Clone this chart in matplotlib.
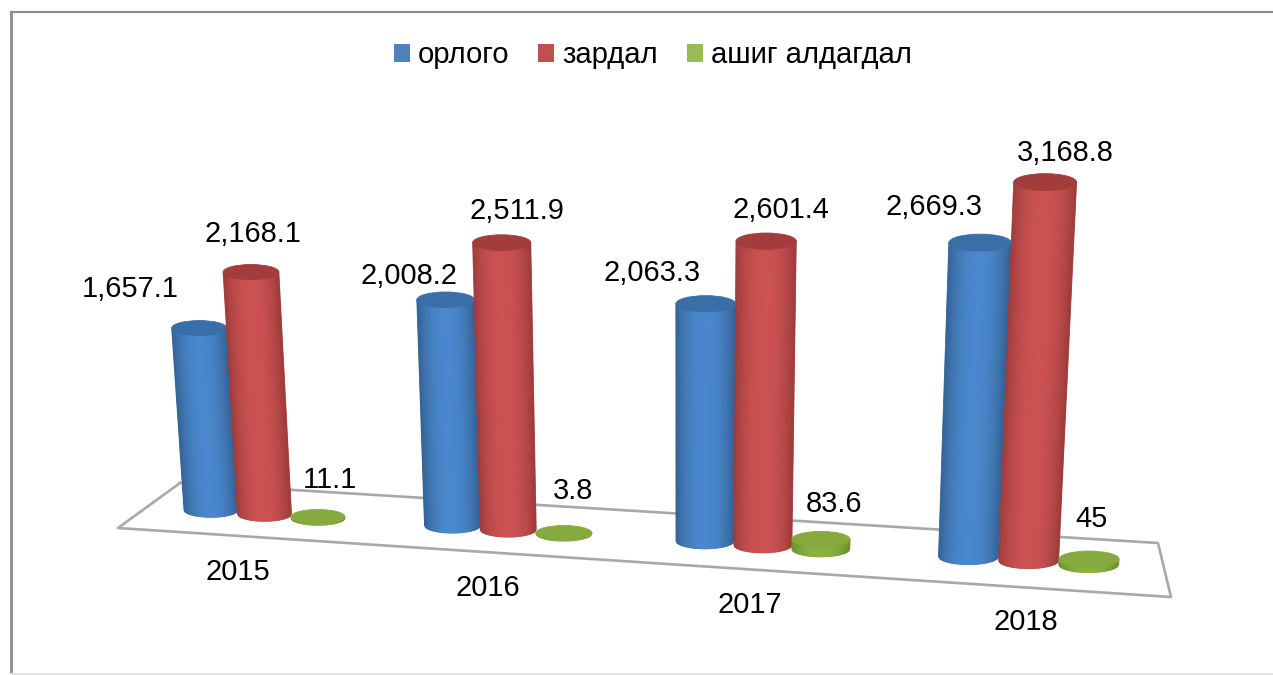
import numpy as np
import matplotlib
matplotlib.use("Agg")
import matplotlib.pyplot as plt
from matplotlib.collections import PolyCollection
from matplotlib.patches import Ellipse, Patch

plt.rcParams['font.family'] = ['Liberation Sans', 'DejaVu Sans']

years = ["2015", "2016", "2017", "2018"]
series_names = ["орлого", "зардал", "ашиг алдагдал"]
orlogo = [1657.1, 2008.2, 2063.3, 2669.3]
zardal = [2168.1, 2511.9, 2601.4, 3168.8]
ashig = [11.1, 3.8, 83.6, 45]

legend_colors = ["#4f81bd", "#c0504d", "#9bbb59"]
center_colors = [(0.29, 0.53, 0.80), (0.80, 0.32, 0.32), (0.54, 0.70, 0.26)]
edge_colors = [(0.20, 0.38, 0.58), (0.62, 0.23, 0.23), (0.42, 0.56, 0.18)]
cap_colors = ["#3a6ea6", "#a33d3d", "#86aa3e"]

# where the labels sit, pixels from top left
value_label_xy = [
    [(130, 289), (409, 276), (652, 273), (934, 207)],
    [(253, 234), (517, 211), (781, 210), (1065, 153)],
    [(330, 480), (573, 491), (834, 504), (1092, 519)],
]
year_label_xy = [(238, 572), (488, 588), (750, 605), (1026, 622)]

floor_x = [180, 1158, 1171, 118, 180]
floor_y = [483, 543, 597, 528, 483]


def base_point(cat, ser):
    # 3d look, the floor runs down to the right
    x = 211 + 236 * cat + 5.5 * cat ** 2 + ser * (53.5 + 2.2 * cat)
    y = 510 + 15.5 * cat + ser * 4.0
    return x, y


def cylinder(ax, cat, ser, value, z):
    xb, yb = base_point(cat, ser)
    scale = 0.1098 + 0.0026 * cat + 0.0018 * min(ser, 1)
    xt = xb + (xb - 680) * value * 1.5e-5
    yt = yb - value * scale
    hw_b = 27 + 1.0 * cat
    hw_t = hw_b * (1 + value * 1.5e-5)

    s = np.linspace(-1, 1, 61)
    polys = []
    cols = []
    for a, b in zip(s[:-1], s[1:]):
        polys.append([
            (xb + a * hw_b, yb + 0.27 * hw_b * np.sqrt(1 - a ** 2)),
            (xb + b * hw_b, yb + 0.27 * hw_b * np.sqrt(1 - b ** 2)),
            (xt + b * hw_t, yt),
            (xt + a * hw_t, yt),
        ])
        m = abs((a + b) / 2) ** 2.2
        cols.append(tuple((1 - m) * c + m * e for c, e in zip(center_colors[ser], edge_colors[ser])))
    ax.add_collection(PolyCollection(polys, facecolors=cols, edgecolors=cols, linewidths=0.6, zorder=z))
    ax.add_patch(Ellipse((xt, yt), 2 * hw_t, 0.54 * hw_t, facecolor=cap_colors[ser],
                         edgecolor=cap_colors[ser], linewidth=0.6, zorder=z + 0.1))


fig = plt.figure(figsize=(12.73, 6.75), dpi=100)
ax = fig.add_axes([0, 0, 1, 1])
ax.set_xlim(0, 1273)
ax.set_ylim(675, 0)
ax.axis("off")

# frame of the picture
ax.plot([11, 11], [675, 12], color="#8c8c8c", lw=2.0, zorder=1)
ax.plot([11, 1273], [12, 12], color="#8c8c8c", lw=1.6, zorder=1)
ax.plot([11, 1273], [674, 674], color="#e2e2e2", lw=1.5, zorder=1)

ax.plot(floor_x, floor_y, color="#a8a8a8", lw=1.9, zorder=2)

all_series = [orlogo, zardal, ashig]
for cat in range(len(years)):
    for ser, values in enumerate(all_series):
        cylinder(ax, cat, ser, values[cat], 3 + ser + cat * 3)

for ser, values in enumerate(all_series):
    for cat, v in enumerate(values):
        x, y = value_label_xy[ser][cat]
        label = f"{v:,.1f}".removesuffix(".0")
        ax.text(x, y, label, fontsize=20.9, color="black", ha="center", va="center", zorder=30)

for name, (x, y) in zip(years, year_label_xy):
    ax.text(x, y, name, fontsize=20.9, color="black", ha="center", va="center", zorder=30)

handles = [Patch(facecolor=c, edgecolor="none", label=n) for c, n in zip(legend_colors, series_names)]
ax.legend(handles=handles, loc="center", bbox_to_anchor=(653 / 1273, 1 - 55 / 675), ncols=3,
          frameon=False, fontsize=21.1, handlelength=0.55, handleheight=0.58,
          handletextpad=0.28, columnspacing=0.98, borderpad=0)

fig.savefig("out.png", dpi=100)
